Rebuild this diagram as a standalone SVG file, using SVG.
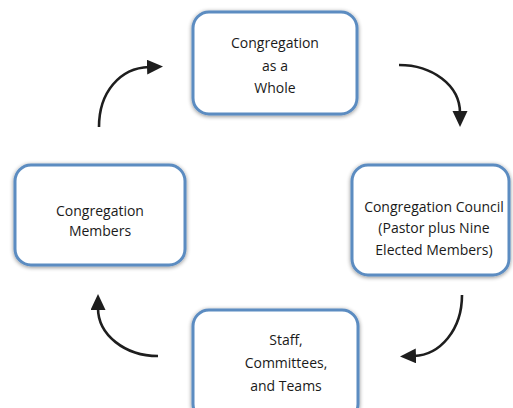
<svg xmlns="http://www.w3.org/2000/svg" width="513" height="408" viewBox="0 0 513 408">
<defs>
<style>
.box{fill:#ffffff;stroke:#5b8cc1;stroke-width:3;filter:url(#glow)}
.lbl{font-family:"Open Sans","Noto Sans","Liberation Sans",sans-serif;font-size:14px;fill:#1a1a1a;text-anchor:middle}
.arr{fill:none;stroke:#1e1e1e;stroke-width:2.6;marker-end:url(#ah)}
</style>
<filter id="glow" x="-20%" y="-20%" width="140%" height="140%">
<feGaussianBlur in="SourceAlpha" stdDeviation="2.2" result="b"/>
<feOffset dx="0" dy="0.5" in="b" result="o"/>
<feComponentTransfer in="o" result="s"><feFuncA type="linear" slope="0.45"/></feComponentTransfer>
<feMerge><feMergeNode in="s"/><feMergeNode in="SourceGraphic"/></feMerge>
</filter>
<marker id="ah" markerUnits="userSpaceOnUse" markerWidth="17" markerHeight="17" refX="2" refY="7.5" orient="auto">
<path d="M0,0 L16,7.5 L0,15 z" fill="#1e1e1e"/>
</marker>
</defs>
<rect width="513" height="408" fill="#ffffff"/>
<g id="connectors">
<path class="arr" d="M99,127 C99,92 120,68 149,67"/>
<path class="arr" d="M399,65 C432,65 460,85 460,113"/>
<path class="arr" d="M462,295 C462,330 440,355 414,356"/>
<path class="arr" d="M158,356 C125,356 98,335 98,308"/>
</g>
<g id="node-whole">
<rect class="box" x="193" y="12" width="164" height="102" rx="16"/>
<text class="lbl" x="275" y="48">Congregation</text>
<text class="lbl" x="275" y="71">as a</text>
<text class="lbl" x="275" y="93">Whole</text>
</g>
<g id="node-council">
<rect class="box" x="352" y="165" width="157" height="110" rx="16"/>
<text class="lbl" x="434" y="212">Congregation Council</text>
<text class="lbl" x="434" y="233">(Pastor plus Nine</text>
<text class="lbl" x="434" y="255">Elected Members)</text>
</g>
<g id="node-staff">
<rect class="box" x="193" y="310" width="165" height="110" rx="16"/>
<text class="lbl" x="286" y="345">Staff,</text>
<text class="lbl" x="286" y="368">Committees,</text>
<text class="lbl" x="286" y="391">and Teams</text>
</g>
<g id="node-members">
<rect class="box" x="15" y="165" width="170" height="100" rx="16"/>
<text class="lbl" x="100" y="216">Congregation</text>
<text class="lbl" x="100" y="236">Members</text>
</g>
</svg>
